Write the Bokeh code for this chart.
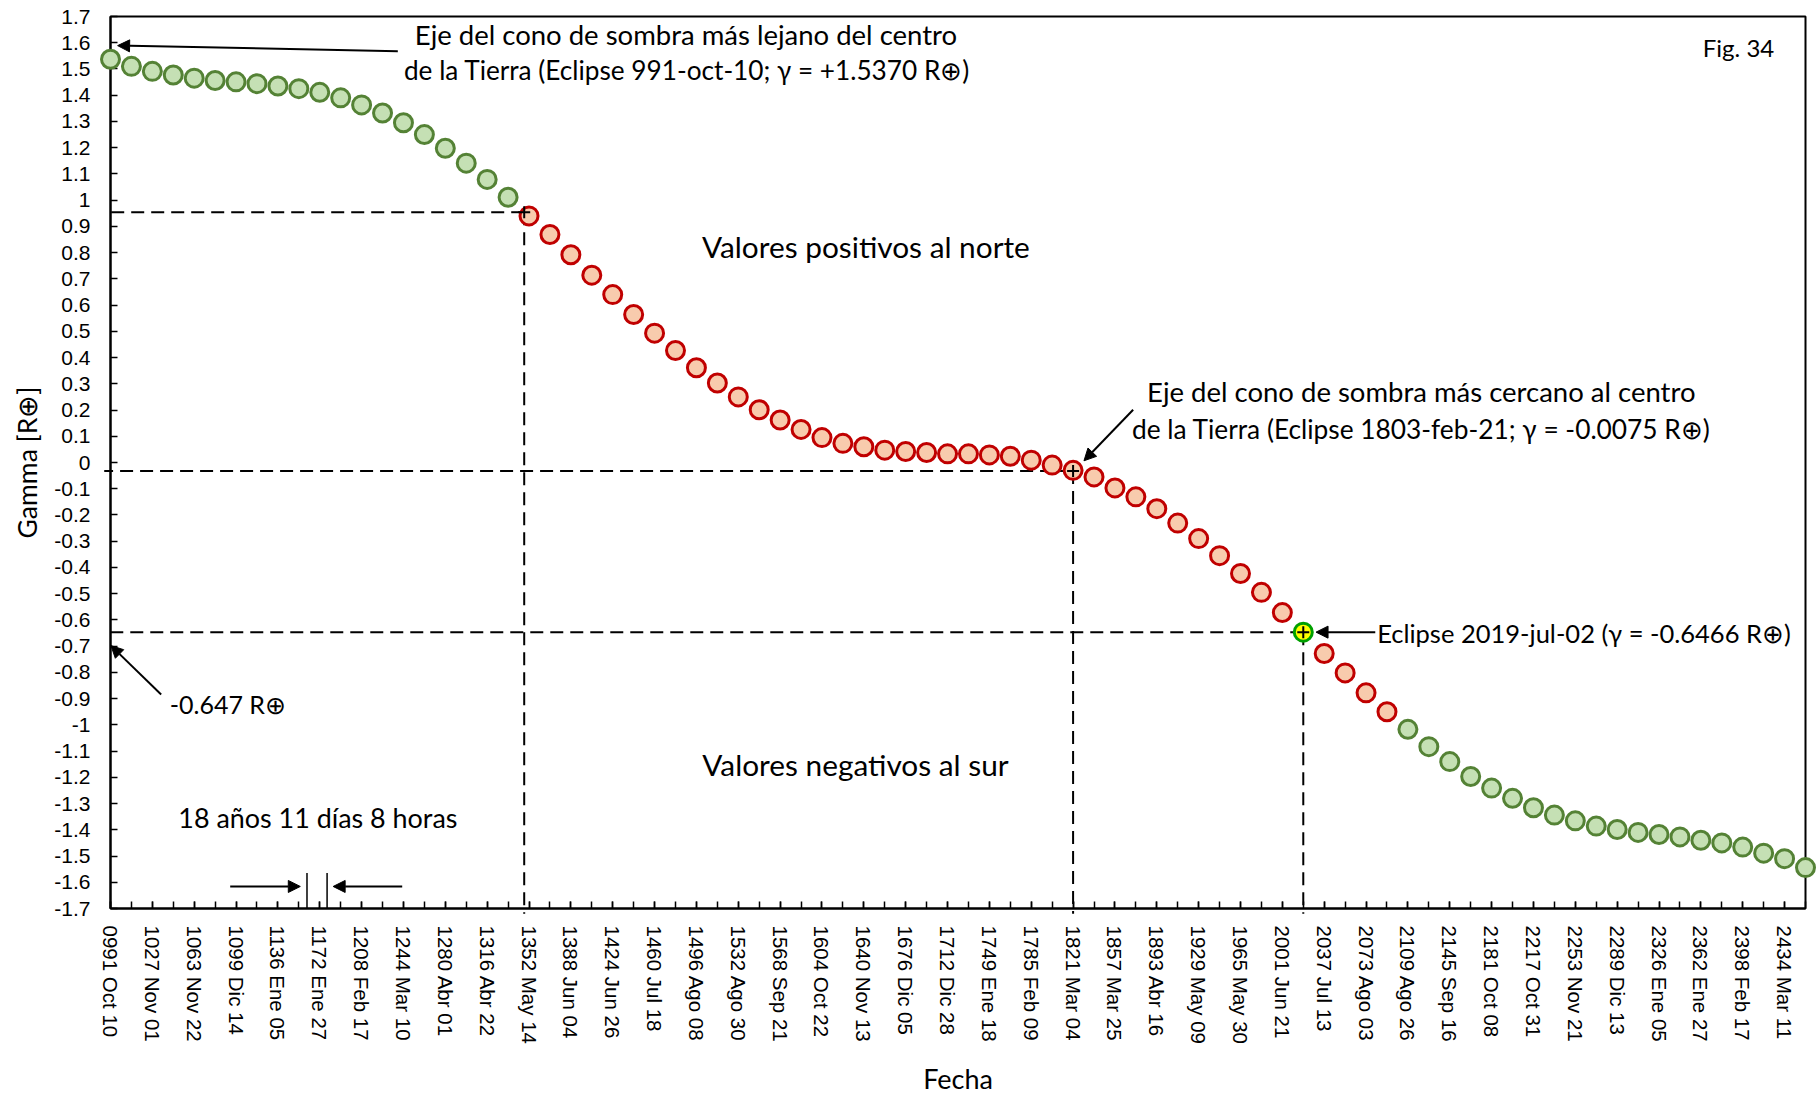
import math
from bokeh.plotting import figure
from bokeh.models import Range1d, FixedTicker, Arrow, NormalHead, ColumnDataSource
from bokeh.core.properties import value
from bokeh.embed import file_html
from bokeh.resources import INLINE

# ---------------- data ----------------
date_labels = ["0991 Oct 10", "1027 Nov 01", "1063 Nov 22", "1099 Dic 14", "1136 Ene 05",
               "1172 Ene 27", "1208 Feb 17", "1244 Mar 10", "1280 Abr 01", "1316 Abr 22",
               "1352 May 14", "1388 Jun 04", "1424 Jun 26", "1460 Jul 18", "1496 Ago 08",
               "1532 Ago 30", "1568 Sep 21", "1604 Oct 22", "1640 Nov 13", "1676 Dic 05",
               "1712 Dic 28", "1749 Ene 18", "1785 Feb 09", "1821 Mar 04", "1857 Mar 25",
               "1893 Abr 16", "1929 May 09", "1965 May 30", "2001 Jun 21", "2037 Jul 13",
               "2073 Ago 03", "2109 Ago 26", "2145 Sep 16", "2181 Oct 08", "2217 Oct 31",
               "2253 Nov 21", "2289 Dic 13", "2326 Ene 05", "2362 Ene 27", "2398 Feb 17",
               "2434 Mar 11"]

gamma = [1.537, 1.510, 1.491, 1.477, 1.465, 1.456, 1.451, 1.444, 1.435, 1.425,
         1.411, 1.390, 1.363, 1.332, 1.295, 1.250, 1.198, 1.141, 1.079, 1.011,
         0.940, 0.869, 0.792, 0.714, 0.640, 0.564, 0.493, 0.427, 0.361, 0.303,
         0.250, 0.201, 0.162, 0.126, 0.095, 0.073, 0.060, 0.047, 0.042, 0.038,
         0.033, 0.033, 0.029, 0.024, 0.009, -0.010, -0.030, -0.055, -0.097, -0.131,
         -0.176, -0.231, -0.290, -0.355, -0.423, -0.495, -0.572, -0.6466, -0.728, -0.802,
         -0.878, -0.950, -1.017, -1.083, -1.140, -1.197, -1.241, -1.280, -1.316, -1.344,
         -1.366, -1.386, -1.399, -1.410, -1.418, -1.427, -1.440, -1.450, -1.466, -1.489,
         -1.510, -1.544]

highlight_index = 57          # Eclipse 2019-jul-02
guide_x = [19.77, 46, 57]     # reference crossings (dashed lines)
guide_y = [0.954, -0.032, -0.6466]

y_tick_values = [round(k / 10, 1) for k in range(-17, 18)]
y_tick_labels = ["%g" % v for v in y_tick_values]

# ---------------- styling ----------------
GREEN_FILL, GREEN_LINE = "#C5E0B4", "#548235"
RED_FILL, RED_LINE = "#F8CBAD", "#C00000"
HL_FILL, HL_LINE = "#FFFF00", "#00A000"
ANN_FONT = "Lato"
TICK_FONT = "Liberation Sans"

n = len(gamma)
xs = list(range(n))
fills, lines = [], []
for i, g in enumerate(gamma):
    if i == highlight_index:
        fills.append(HL_FILL); lines.append(HL_LINE)
    elif abs(g) >= 1:
        fills.append(GREEN_FILL); lines.append(GREEN_LINE)
    else:
        fills.append(RED_FILL); lines.append(RED_LINE)

src = ColumnDataSource(dict(x=xs, y=gamma, fill=fills, line=lines))

p = figure(width=1818, height=1094,
           x_range=Range1d(0, n - 1), y_range=Range1d(-1.7, 1.7),
           output_backend="svg", toolbar_location=None,
           min_border_left=110, min_border_right=13, min_border_top=16, min_border_bottom=186)
p.grid.visible = False
p.background_fill_color = "white"
p.border_fill_color = "white"
p.outline_line_color = "black"
p.outline_line_width = 2

# x axis
p.xaxis.ticker = FixedTicker(ticks=list(range(0, n - 1, 2)), minor_ticks=xs)
p.xaxis.major_label_overrides = {2 * k: d for k, d in enumerate(date_labels)}
p.xaxis.major_label_orientation = "vertical"
p.xaxis.major_label_standoff = 17
p.xaxis.major_label_text_font = TICK_FONT
p.xaxis.major_label_text_font_size = "20.5px"
p.xaxis.major_label_text_color = "black"

# y axis
p.yaxis.ticker = FixedTicker(ticks=y_tick_values, minor_ticks=[])
p.yaxis.major_label_overrides = {v: s for v, s in zip(y_tick_values, y_tick_labels)}
p.yaxis.major_label_standoff = 20
p.yaxis.major_label_text_font = TICK_FONT
p.yaxis.major_label_text_font_size = "21px"
p.yaxis.major_label_text_color = "black"

for ax in (p.xaxis[0], p.yaxis[0]):
    ax.axis_line_color = "black"
    ax.axis_line_width = 2
    ax.major_tick_line_color = "black"
    ax.minor_tick_line_color = "black"
    ax.major_tick_line_width = 1.5
    ax.minor_tick_line_width = 1.5
    ax.major_tick_in = 7
    ax.major_tick_out = 0
    ax.minor_tick_in = 7
    ax.minor_tick_out = 0

# dashed guide lines (to the axes, slightly beyond)
hseg = p.segment(x0=guide_x, y0=guide_y, x1=[-0.3] * len(guide_x), y1=guide_y,
                 line_color="black", line_width=2, line_dash="13 7")
vseg = p.segment(x0=guide_x, y0=guide_y, x1=guide_x, y1=[-1.72] * len(guide_x),
                 line_color="black", line_width=2, line_dash="13 7")
hseg.level = "guide"
vseg.level = "guide"

# points
pts = p.scatter("x", "y", source=src, size=18, fill_color="fill", line_color="line", line_width=3)
pts.level = "annotation"
crs = p.scatter(guide_x, guide_y, marker="cross", size=12, line_color="black", line_width=2)
crs.level = "annotation"

# saros interval markers
bars = p.segment(x0=[9.39, 10.35], y0=[-1.565, -1.565], x1=[9.39, 10.35], y1=[-1.7, -1.7],
                 line_color="black", line_width=1.5)
bars.level = "annotation"


def arrow(xs_, ys_, xe, ye):
    p.add_layout(Arrow(end=NormalHead(size=12, fill_color="black", line_color="black", line_width=1),
                       x_start=xs_, y_start=ys_, x_end=xe, y_end=ye,
                       line_color="black", line_width=2))


arrow(13.73, 1.568, 0.34, 1.589)
arrow(48.87, 0.201, 46.52, 0.0065)
arrow(60.44, -0.6466, 57.61, -0.6466)
arrow(2.42, -0.884, 0.02, -0.698)
arrow(5.72, -1.616, 9.07, -1.616)
arrow(13.94, -1.616, 10.64, -1.616)


def label(x, y, text, size="28px", align="center", angle=0.0):
    r = p.text(x=[x], y=[y], text=[text], text_font=value(ANN_FONT), text_font_size=size,
               text_align=align, text_baseline="middle", text_color="black", angle=angle)
    r.level = "annotation"


label(27.5, 1.633, "Eje del cono de sombra más lejano del centro", size="27.5px")
label(27.55, 1.496, "de la Tierra (Eclipse 991-oct-10; γ = +1.5370 R⊕)", size="26.2px")
label(77.8, 1.583, "Fig. 34", size="24px")
label(36.1, 0.824, "Valores positivos al norte", size="29.8px")
label(62.64, 0.272, "Eje del cono de sombra más cercano al centro", size="27.5px")
label(62.64, 0.128, "de la Tierra (Eclipse 1803-feb-21; γ = -0.0075 R⊕)", size="26.3px")
label(60.53, -0.648, "Eclipse 2019-jul-02 (γ = -0.6466 R⊕)", size="25.5px", align="left")
label(2.83, -0.922, "-0.647 R⊕", size="25px", align="left")
label(35.6, -1.151, "Valores negativos al sur", size="29.8px")
label(9.91, -1.352, "18 años 11 días 8 horas", size="26.9px")
label(40.5, -2.348, "Fecha", size="27px")
label(-4.0, 0.0, "Gamma [R⊕]", size="26.5px", angle=math.pi / 2)

open("out.html", "w").write(file_html(p, INLINE))
